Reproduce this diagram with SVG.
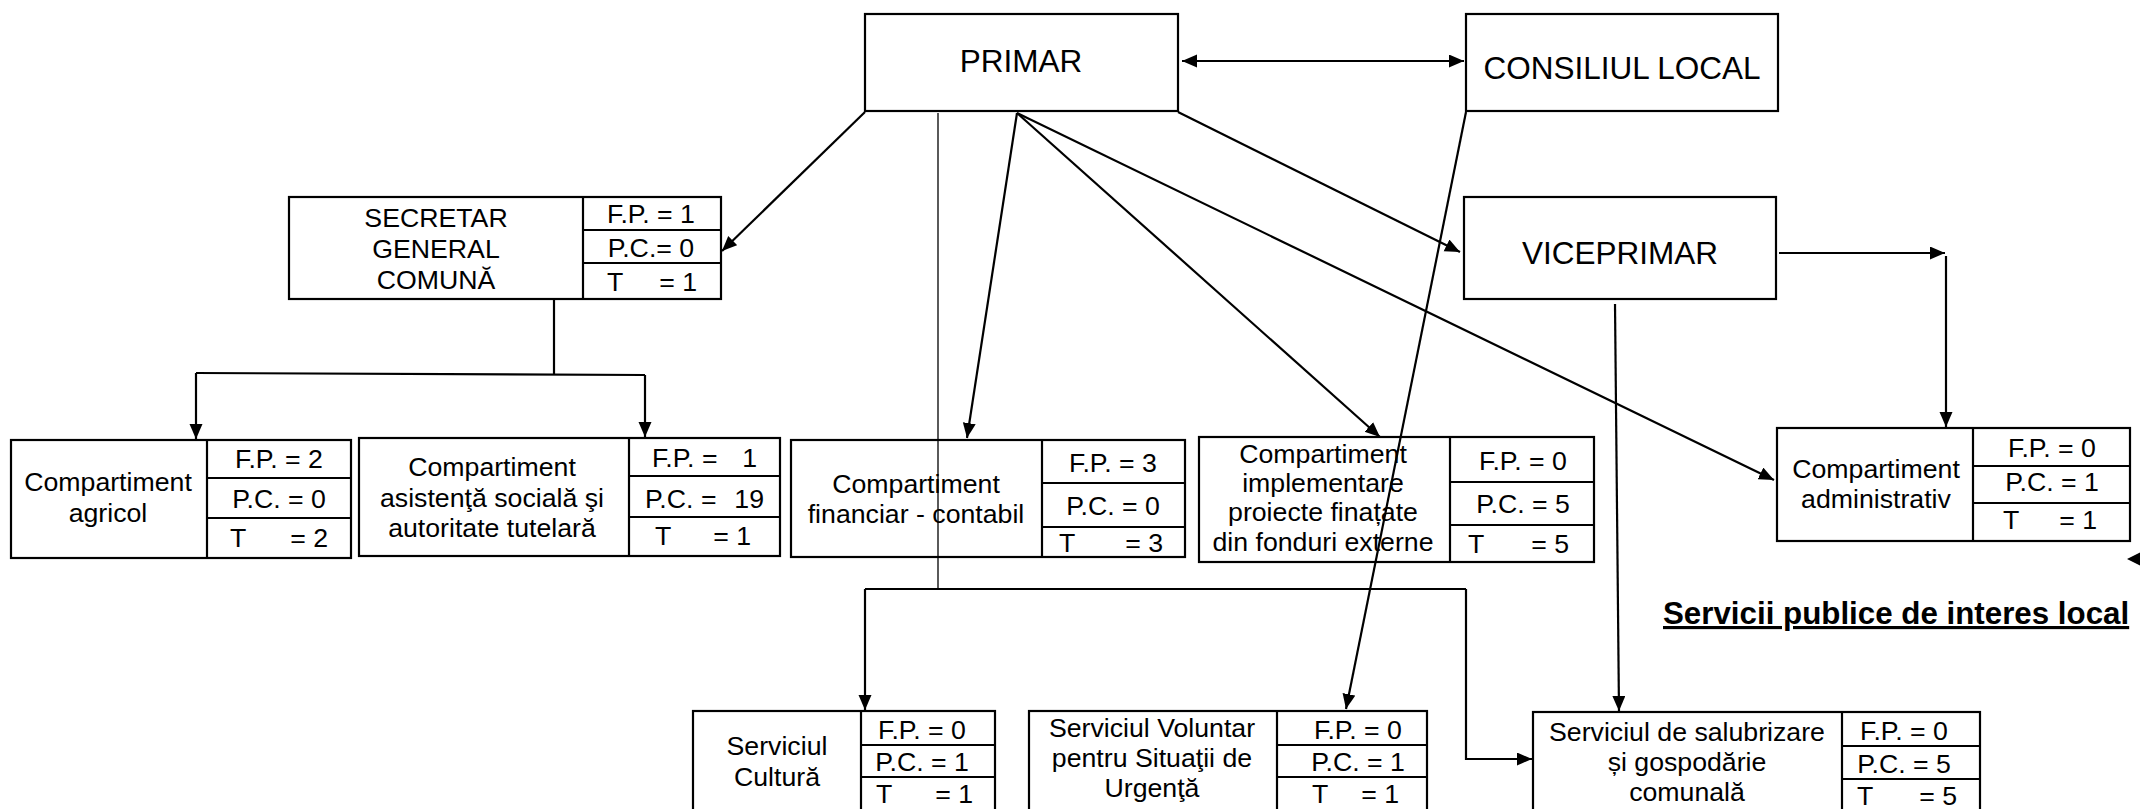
<svg xmlns="http://www.w3.org/2000/svg" width="2140" height="809" viewBox="0 0 2140 809">
<style>
.box{fill:#fff;stroke:#000;stroke-width:2.2}
.ln{fill:none;stroke:#000;stroke-width:2.2}
.thin{fill:none;stroke:#000;stroke-width:1.3}
text{font-family:"Liberation Sans",Arial,sans-serif;fill:#000}
.big{font-size:31.5px;text-anchor:middle}
.sm{font-size:26.7px;text-anchor:middle}
.st{font-size:26.7px}
.ttl{font-size:31.3px;font-weight:bold;text-decoration:underline}
</style>
<defs>
<marker id="ah" markerUnits="userSpaceOnUse" markerWidth="16" markerHeight="14" refX="15" refY="6.5" orient="auto-start-reverse">
<path d="M0,0 L15,6.5 L0,13 z" fill="#000"/>
</marker>
</defs>
<rect width="2140" height="809" fill="#fff"/>

<g id="primar">
<rect class="box" x="865" y="14" width="313" height="97"/>
<text class="big" x="1021" y="72">PRIMAR</text>
</g>

<g id="consiliul-local">
<rect class="box" x="1466" y="14" width="312" height="97"/>
<text class="big" x="1622" y="79">CONSILIUL LOCAL</text>
</g>

<g id="viceprimar">
<rect class="box" x="1464" y="197" width="312" height="102"/>
<text class="big" x="1620" y="264">VICEPRIMAR</text>
</g>

<g id="secretar">
<rect class="box" x="289" y="197" width="432" height="102"/>
<line class="ln" x1="583" y1="197" x2="583" y2="299"/>
<line class="ln" x1="583" y1="230" x2="721" y2="230"/>
<line class="ln" x1="583" y1="263" x2="721" y2="263"/>
<text class="sm" x="436" y="227">SECRETAR</text>
<text class="sm" x="436" y="258">GENERAL</text>
<text class="sm" x="436" y="289">COMUNĂ</text>
<text class="sm" x="651" y="223">F.P. = 1</text>
<text class="sm" x="651" y="257">P.C.= 0</text>
<text class="st" y="291"><tspan x="607">T </tspan><tspan x="697" text-anchor="end">= 1</tspan></text>
</g>

<g id="agricol">
<rect class="box" x="11" y="440" width="340" height="118"/>
<line class="ln" x1="207" y1="440" x2="207" y2="558"/>
<line class="ln" x1="207" y1="478" x2="351" y2="478"/>
<line class="ln" x1="207" y1="518" x2="351" y2="518"/>
<text class="sm" x="108" y="491">Compartiment</text>
<text class="sm" x="108" y="522">agricol</text>
<text class="sm" x="279" y="468">F.P. = 2</text>
<text class="sm" x="279" y="508">P.C. = 0</text>
<text class="st" y="547"><tspan x="230">T </tspan><tspan x="328" text-anchor="end">=  2</tspan></text>
</g>

<g id="asistenta">
<rect class="box" x="359" y="438" width="421" height="118"/>
<line class="ln" x1="629" y1="438" x2="629" y2="556"/>
<line class="ln" x1="629" y1="476" x2="780" y2="476"/>
<line class="ln" x1="629" y1="517" x2="780" y2="517"/>
<text class="sm" x="492" y="476">Compartiment</text>
<text class="sm" x="492" y="507">asistenţă socială şi</text>
<text class="sm" x="492" y="537">autoritate tutelară</text>
<text class="st" y="467"><tspan x="652">F.P. = </tspan><tspan x="757" text-anchor="end">1</tspan></text>
<text class="st" y="508"><tspan x="645">P.C. = </tspan><tspan x="764" text-anchor="end">19</tspan></text>
<text class="st" y="545"><tspan x="655">T </tspan><tspan x="751" text-anchor="end">= 1</tspan></text>
</g>

<g id="financiar">
<rect class="box" x="791" y="440" width="394" height="117"/>
<line class="ln" x1="1042" y1="440" x2="1042" y2="557"/>
<line class="ln" x1="1042" y1="483" x2="1185" y2="483"/>
<line class="ln" x1="1042" y1="527" x2="1185" y2="527"/>
<text class="sm" x="916" y="493">Compartiment</text>
<text class="sm" x="916" y="523">financiar - contabil</text>
<text class="sm" x="1113" y="472">F.P. = 3</text>
<text class="sm" x="1113" y="515">P.C. = 0</text>
<text class="st" y="552"><tspan x="1059">T </tspan><tspan x="1163" text-anchor="end">= 3</tspan></text>
</g>

<g id="implementare">
<rect class="box" x="1199" y="437" width="395" height="125"/>
<line class="ln" x1="1450" y1="437" x2="1450" y2="562"/>
<line class="ln" x1="1450" y1="482" x2="1594" y2="482"/>
<line class="ln" x1="1450" y1="525" x2="1594" y2="525"/>
<text class="sm" x="1323" y="463">Compartiment</text>
<text class="sm" x="1323" y="492">implementare</text>
<text class="sm" x="1323" y="521">proiecte finațate</text>
<text class="sm" x="1323" y="551">din fonduri externe</text>
<text class="sm" x="1523" y="470">F.P. = 0</text>
<text class="sm" x="1523" y="513">P.C. = 5</text>
<text class="st" y="553"><tspan x="1468">T </tspan><tspan x="1569" text-anchor="end">= 5</tspan></text>
</g>

<g id="administrativ">
<rect class="box" x="1777" y="428" width="353" height="113"/>
<line class="ln" x1="1973" y1="428" x2="1973" y2="541"/>
<line class="ln" x1="1973" y1="466" x2="2130" y2="466"/>
<line class="ln" x1="1973" y1="503" x2="2130" y2="503"/>
<text class="sm" x="1876" y="478">Compartiment</text>
<text class="sm" x="1876" y="508">administrativ</text>
<text class="sm" x="2052" y="457">F.P. = 0</text>
<text class="sm" x="2052" y="491">P.C. = 1</text>
<text class="st" y="529"><tspan x="2003">T </tspan><tspan x="2097" text-anchor="end">= 1</tspan></text>
</g>

<text class="ttl" x="1663" y="624">Servicii publice de interes local</text>

<g id="cultura">
<rect class="box" x="693" y="711" width="302" height="110"/>
<line class="ln" x1="861" y1="711" x2="861" y2="821"/>
<line class="ln" x1="861" y1="745" x2="995" y2="745"/>
<line class="ln" x1="861" y1="777" x2="995" y2="777"/>
<text class="sm" x="777" y="755">Serviciul</text>
<text class="sm" x="777" y="786">Cultură</text>
<text class="sm" x="922" y="739">F.P. = 0</text>
<text class="sm" x="922" y="771">P.C. = 1</text>
<text class="st" y="803"><tspan x="876">T </tspan><tspan x="973" text-anchor="end">= 1</tspan></text>
</g>

<g id="voluntar">
<rect class="box" x="1029" y="711" width="398" height="110"/>
<line class="ln" x1="1277" y1="711" x2="1277" y2="821"/>
<line class="ln" x1="1277" y1="745" x2="1427" y2="745"/>
<line class="ln" x1="1277" y1="777" x2="1427" y2="777"/>
<text class="sm" x="1152" y="737">Serviciul Voluntar</text>
<text class="sm" x="1152" y="767">pentru Situaţii de</text>
<text class="sm" x="1152" y="797">Urgenţă</text>
<text class="sm" x="1358" y="739">F.P. = 0</text>
<text class="sm" x="1358" y="771">P.C. = 1</text>
<text class="st" y="803"><tspan x="1312">T </tspan><tspan x="1399" text-anchor="end">= 1</tspan></text>
</g>

<g id="salubrizare">
<rect class="box" x="1533" y="712" width="447" height="110"/>
<line class="ln" x1="1842" y1="712" x2="1842" y2="822"/>
<line class="ln" x1="1842" y1="746" x2="1980" y2="746"/>
<line class="ln" x1="1842" y1="779" x2="1980" y2="779"/>
<text class="sm" x="1687" y="741">Serviciul de salubrizare</text>
<text class="sm" x="1687" y="771">și gospodărie</text>
<text class="sm" x="1687" y="801">comunală</text>
<text class="sm" x="1904" y="740">F.P. = 0</text>
<text class="sm" x="1904" y="773">P.C. = 5</text>
<text class="st" y="805"><tspan x="1857">T </tspan><tspan x="1957" text-anchor="end">= 5</tspan></text>
</g>

<g id="connectors">
<line class="ln" x1="1182" y1="61" x2="1464" y2="61" marker-start="url(#ah)" marker-end="url(#ah)"/>
<line class="ln" x1="865" y1="112" x2="722" y2="251" marker-end="url(#ah)"/>
<line class="ln" x1="1178" y1="112" x2="1460" y2="252" marker-end="url(#ah)"/>
<line class="ln" x1="1017" y1="113" x2="967" y2="438" marker-end="url(#ah)"/>
<line class="ln" x1="1017" y1="113" x2="1380" y2="437" marker-end="url(#ah)"/>
<line class="ln" x1="1017" y1="113" x2="1774" y2="480" marker-end="url(#ah)"/>
<line class="thin" x1="938" y1="113" x2="938" y2="589"/>
<line class="ln" x1="865" y1="589" x2="1466" y2="589"/>
<line class="ln" x1="865" y1="589" x2="865" y2="710" marker-end="url(#ah)"/>
<polyline class="ln" points="1466,589 1466,759 1532,759" marker-end="url(#ah)"/>
<line class="ln" x1="1466" y1="112" x2="1346" y2="709" marker-end="url(#ah)"/>
<line class="ln" x1="1615" y1="304" x2="1619" y2="711" marker-end="url(#ah)"/>
<line class="ln" x1="1779" y1="253" x2="1945" y2="253" marker-end="url(#ah)"/>
<line class="ln" x1="1946" y1="256" x2="1946" y2="427" marker-end="url(#ah)"/>
<line class="ln" x1="554" y1="300" x2="554" y2="374"/>
<line class="ln" x1="196" y1="373" x2="645" y2="375"/>
<line class="ln" x1="196" y1="373" x2="196" y2="439" marker-end="url(#ah)"/>
<line class="ln" x1="645" y1="375" x2="645" y2="437" marker-end="url(#ah)"/>
<path d="M2127,559 L2141,552 L2141,566 z" fill="#000"/>
</g>
</svg>
